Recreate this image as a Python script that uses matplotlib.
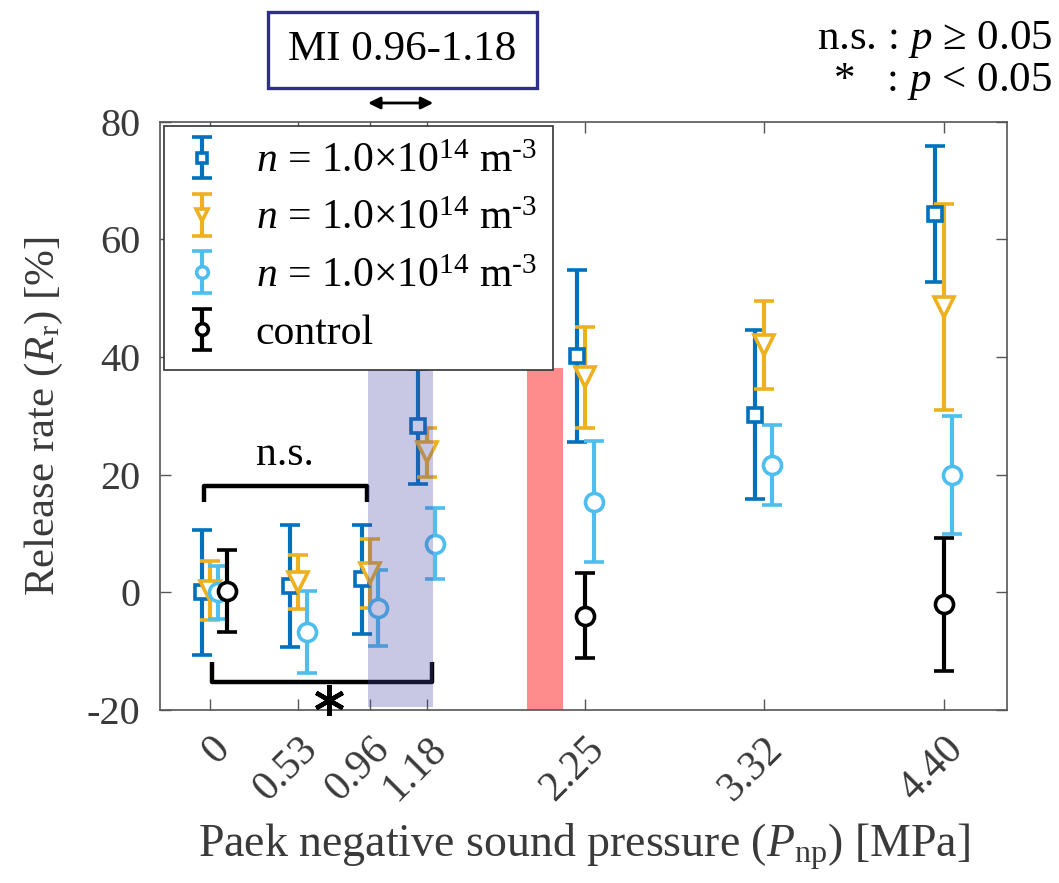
import matplotlib
matplotlib.use('Agg')
import matplotlib.pyplot as plt
from matplotlib.patches import Rectangle

plt.rcParams['font.family'] = ['Liberation Serif', 'DejaVu Serif']
plt.rcParams['mathtext.fontset'] = 'custom'
plt.rcParams['mathtext.rm'] = 'Liberation Serif'
plt.rcParams['mathtext.it'] = 'Liberation Serif:italic'
plt.rcParams['axes.unicode_minus'] = False

# datos
pressure_labels = ['0', '0.53', '0.96', '1.18', '2.25', '3.32', '4.40']
# posicion de cada grupo en el eje (el grupo 1.18 esta corrido en el original)
pressure_pos = [0, 0.53, 0.96, 1.30, 2.25, 3.32, 4.40]

blue_mean = [0.0, 1.1, 2.2, 28.2, 40.2, 30.2, 64.3]
blue_err = [10.6, 10.4, 9.3, 9.8, 14.6, 14.4, 11.6]

orange_mean = [0.3, 1.8, 3.2, 23.8, 36.6, 42.0, 48.5]
orange_err = [5.0, 4.6, 5.8, 4.2, 8.6, 7.5, 17.5]

light_mean = [0.0, -6.8, -2.7, 8.3, 15.4, 21.7, 20.0]
light_err = [4.5, 7.0, 6.5, 6.0, 10.3, 6.8, 10.0]

control_idx = [0, 4, 6]
control_mean = [0.2, -4.0, -2.0]
control_err = [7.0, 7.2, 11.3]

legend_labels = [r'$n$ = 1.0×10$^{14}$ m$^{\text{-3}}$'] * 3 + ['control']

tick_col = '#3a3a3a'
fig = plt.figure(figsize=(10.59, 8.83), dpi=100)
ax = fig.add_axes([0.151, 0.196, 0.800, 0.666])

common = dict(linestyle='none', capsize=7, elinewidth=3, capthick=3,
              markeredgewidth=2.6, markerfacecolor='white', zorder=3)

xb = [p - 0.05 for p in pressure_pos]
xo = [p for p in pressure_pos]
xl = [p + 0.05 for p in pressure_pos]
xc = [pressure_pos[i] + (0.1 if i == 0 else 0) for i in control_idx]

h1 = ax.errorbar(xb, blue_mean, yerr=blue_err, fmt='s', color='#0072BD', markersize=10, **common)
h2 = ax.errorbar(xo, orange_mean, yerr=orange_err, fmt='v', color='#EDB120', markersize=14, **common)
h3 = ax.errorbar(xl, light_mean, yerr=light_err, fmt='o', color='#4DBEEE', markersize=13, **common)
h4 = ax.errorbar(xc, control_mean, yerr=control_err, fmt='o', color='black', markersize=13, **common)

# bandas
ax.fill_between([0.948, 1.339], -19.5, 38.2, color='#4a4aa8', alpha=0.3, lw=0, zorder=6)
ax.fill_between([1.903, 2.119], -20, 38.2, color='#ff8c8c', lw=0, zorder=2)

# corchetes de significancia
ax.plot([-0.036, -0.036, 0.942, 0.942], [15.3, 18.0, 18.0, 15.3], color='black', lw=3.2,
        solid_joinstyle='round', solid_capstyle='butt', zorder=4)
ax.text(0.45, 20.2, 'n.s.', fontsize=30, ha='center', va='bottom', color='black')
ax.plot([0.012, 0.012, 1.333, 1.333], [-11.9, -15.3, -15.3, -11.9], color='black', lw=3.2,
        solid_joinstyle='round', solid_capstyle='butt', zorder=4)
ax.plot([0.715], [-18.3], marker=(6, 2, 0), markersize=22, markeredgewidth=3.2,
        color='black', clip_on=False, zorder=4)

ax.set_xlim(-0.30, 4.78)
ax.set_ylim(-20, 80)
ax.set_xticks(pressure_pos)
ax.set_xticklabels(pressure_labels, rotation=45, ha='right', va='top', rotation_mode='anchor')
ax.set_yticks([-20, 0, 20, 40, 60, 80])
ax.tick_params(direction='in', length=8, width=1, top=True, right=True,
               colors='#555555', labelcolor=tick_col)
ax.tick_params(axis='y', labelsize=29, pad=14)
ax.tick_params(axis='x', labelsize=30, pad=14)
for s in ax.spines.values():
    s.set_color('#555555')
    s.set_linewidth(1.2)

ax.set_ylabel(r'Release rate ($R_{\mathrm{r}}$) [%]', fontsize=31, color=tick_col, labelpad=16)
ax.set_xlabel(r'Paek negative sound pressure ($P_{\mathrm{np}}$) [MPa]', fontsize=33,
              color=tick_col, labelpad=10)

leg = ax.legend([h1, h2, h3, h4], legend_labels, loc='upper left', bbox_to_anchor=(0.0, 1.0),
                borderaxespad=0.1, fontsize=30, frameon=True, fancybox=False,
                framealpha=1, edgecolor='#333333', handlelength=1.0, handletextpad=0.8,
                labelspacing=0.45, borderpad=0.4, markerscale=0.65)
leg.get_frame().set_linewidth(1.2)
leg.set_zorder(7)

# caja MI y flecha
fig.patches.append(Rectangle((268 / 1059, 1 - 88 / 883), 269 / 1059, 76 / 883,
                             transform=fig.transFigure, fill=False, edgecolor='#2e2e8c', lw=2.4))
fig.text(402 / 1059, 1 - 50 / 883, 'MI 0.96-1.18', fontsize=31, ha='center', va='center')
ax.annotate('', xy=(0.948, 1 - 103 / 883), xytext=(1.339, 1 - 103 / 883),
            xycoords=('data', 'figure fraction'), textcoords=('data', 'figure fraction'),
            arrowprops=dict(arrowstyle='<|-|>', color='black', lw=2, mutation_scale=18,
                            shrinkA=0, shrinkB=0))

fig.text(1052 / 1059, 1 - 40 / 883, r'n.s. : $p$ ≥ 0.05', fontsize=31, ha='right', va='center')
fig.text(1052 / 1059, 1 - 82 / 883, r'*   : $p$ < 0.05', fontsize=31, ha='right', va='center')

fig.savefig('out.png', dpi=100)
